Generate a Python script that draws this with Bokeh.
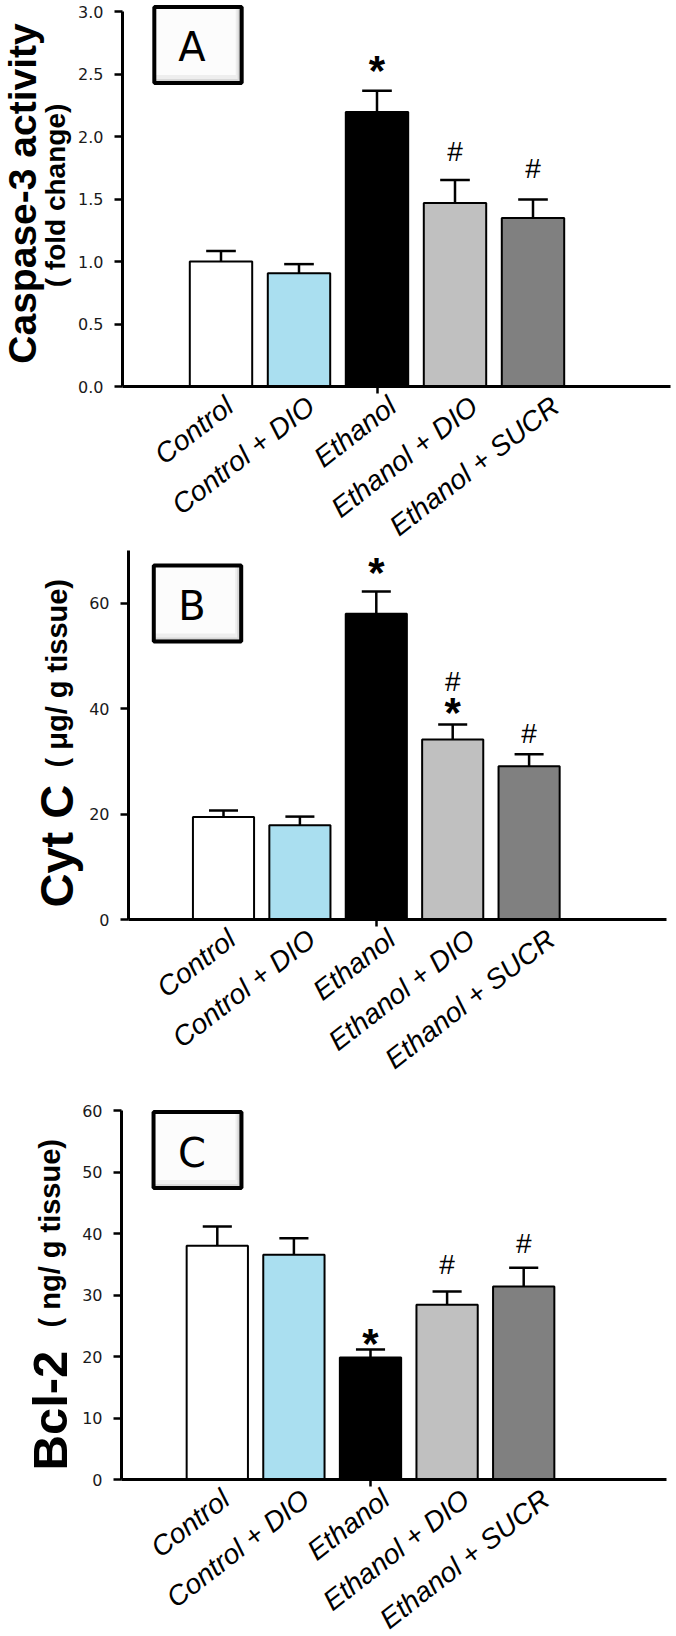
import math
from bokeh.plotting import figure
from bokeh.layouts import column
from bokeh.models import ColumnDataSource, FixedTicker, Label, Range1d, NumeralTickFormatter
from bokeh.embed import file_html
from bokeh.resources import INLINE
from bokeh.core.properties import value

# ---------------- data ----------------
groups = ["Control", "Control + DIO", "Ethanol", "Ethanol + DIO", "Ethanol + SUCR"]
bar_colors = ["#ffffff", "#aadff0", "#000000", "#c0c0c0", "#808080"]

casp_mean = [1.00, 0.907, 2.197, 1.468, 1.348]
casp_err = [0.085, 0.072, 0.170, 0.184, 0.149]
casp_ticks = [0.0, 0.5, 1.0, 1.5, 2.0, 2.5, 3.0]
casp_marks = [("Ethanol", "*", 2.61), ("Ethanol + DIO", "#", 1.89), ("Ethanol + SUCR", "#", 1.75)]

cytc_mean = [19.45, 17.87, 57.98, 34.16, 29.09]
cytc_err = [1.21, 1.65, 4.22, 2.84, 2.28]
cytc_ticks = [0, 20, 40, 60]
cytc_marks = [("Ethanol", "*", 67.7), ("Ethanol + DIO", "#", 45.4),
              ("Ethanol + DIO", "*", 41.1), ("Ethanol + SUCR", "#", 35.4)]

bcl2_mean = [38.0, 36.53, 19.84, 28.4, 31.38]
bcl2_err = [3.14, 2.71, 1.30, 2.17, 3.04]
bcl2_ticks = [0, 10, 20, 30, 40, 50, 60]
bcl2_marks = [("Ethanol", "*", 23.7), ("Ethanol + DIO", "#", 35.1), ("Ethanol + SUCR", "#", 38.6)]

xpos = [1, 2, 3, 4, 5]
LAB_OFF = 0.11      # label anchor offset from bar centre (x units)
LAB_SPREAD = 0.045  # labels sit on a slightly wider pitch than the bars
W = 676
YLAB_SHIFT = -15    # correction for rotated label placement


def make_panel(mean, err, ticks, ymax, marks, letter, ylabels, geo, box_center, letter_pos, fmt=None):
    # geo: pixel layout of this panel in picture coordinates
    fig_top, H, fl, fr, ft, fb, bar1_px, ppu = geo
    xs = 1 - (bar1_px - fl) / ppu

    def X(px):
        return xs + (px - fl) / ppu

    def Y(py):
        return (fb - py) * ymax / (fb - ft)

    p = figure(width=W, height=H,
               x_range=Range1d(X(0), X(W)), y_range=Range1d(Y(fig_top + H), Y(fig_top)),
               output_backend="svg", toolbar_location=None,
               min_border_left=0, min_border_right=0, min_border_top=0, min_border_bottom=0)
    p.grid.visible = False
    p.outline_line_color = None
    p.background_fill_color = "white"
    p.border_fill_color = "white"

    hi = [m + e for m, e in zip(mean, err)]
    src = ColumnDataSource(dict(x=xpos, top=mean, hi=hi, color=bar_colors,
                                cl=[x - 0.19 for x in xpos], cr=[x + 0.19 for x in xpos]))
    p.segment(x0="x", y0="top", x1="x", y1="hi", line_color="black", line_width=2.5, source=src)
    p.segment(x0="cl", y0="hi", x1="cr", y1="hi", line_color="black", line_width=2.5, source=src)
    p.vbar(x="x", top="top", bottom=0, width=0.80, fill_color="color",
           line_color="black", line_width=2, source=src)

    for sym, size, yoff, style in (("*", "42px", 10, "bold"), ("#", "28px", 1, "normal")):
        mx = [xpos[groups.index(g)] for g, s, y in marks if s == sym]
        my = [y for g, s, y in marks if s == sym]
        if mx:
            p.text(x=mx, y=my, text=[sym] * len(mx), text_font=value("Liberation Sans"),
                   text_font_size=size, text_font_style=style, text_align="center",
                   text_baseline="middle", y_offset=yoff, text_color="black")

    lab_x = [x + LAB_OFF + i * LAB_SPREAD for i, x in enumerate(xpos)]
    ax = p.xaxis[0]
    ax.fixed_location = 0
    ax.bounds = (X(fl), X(fr))
    ax.ticker = FixedTicker(ticks=lab_x, minor_ticks=[xpos[groups.index("Ethanol")]])
    ax.major_label_overrides = {t: g for t, g in zip(lab_x, groups)}
    ax.major_label_orientation = math.radians(38)
    ax.major_label_text_font = "Liberation Sans"
    ax.major_label_text_font_style = "italic"
    ax.major_label_text_font_size = "28px"
    ax.major_label_text_color = "black"
    ax.major_label_standoff = 9
    ax.major_tick_line_color = None
    ax.major_tick_out = 0
    ax.major_tick_in = 0
    ax.minor_tick_line_color = "black"
    ax.minor_tick_line_width = 2.5
    ax.minor_tick_out = 7
    ax.minor_tick_in = 0
    ax.axis_line_width = 3
    ax.axis_line_color = "black"

    ay = p.yaxis[0]
    ay.fixed_location = X(fl)
    ay.bounds = (0, ymax)
    ay.ticker = FixedTicker(ticks=ticks)
    if fmt is not None:
        ay.formatter = fmt
    ay.minor_tick_line_color = None
    ay.major_tick_out = 8
    ay.major_tick_in = 0
    ay.major_tick_line_width = 2.5
    ay.axis_line_width = 3
    ay.axis_line_color = "black"
    ay.major_label_text_font = "DejaVu Sans"
    ay.major_label_text_font_size = "16px"
    ay.major_label_text_color = "#1a1a1a"
    ay.major_label_standoff = 11

    for text, fs, bx, by, align in ylabels:
        p.add_layout(Label(x=X(bx + YLAB_SHIFT), y=Y(by), text=text, angle=math.pi / 2,
                           text_align=align, text_baseline="alphabetic",
                           text_font="Liberation Sans", text_font_style="bold",
                           text_font_size=f"{fs}px", text_color="black"))

    # framed panel letter with soft inner shadow
    bx, by = box_center
    layers = [("#b0b0b0", (30, 15), 0, 0), ("#d8d8d8", (29, 14), -1, 1),
              ("#eeeeee", (28, 13), -2, 2), ("#fcfcfc", (27, 11), -3, 4)]
    for col, pad, dx, dy in layers:
        p.add_layout(Label(x=X(bx), y=Y(by), text=letter, text_align="center", text_baseline="middle",
                           text_font="DejaVu Sans", text_font_size="40px", text_color=col,
                           background_fill_color=col, padding=pad, x_offset=dx, y_offset=dy))
    p.add_layout(Label(x=X(bx), y=Y(by), text=letter, text_align="center", text_baseline="middle",
                       text_font="DejaVu Sans", text_font_size="40px", text_color="#fcfcfc",
                       border_line_color="black", border_line_width=4, padding=(30, 15)))
    lx, ly = letter_pos
    p.add_layout(Label(x=X(lx), y=Y(ly), text=letter, text_align="center", text_baseline="middle",
                       text_font="DejaVu Sans", text_font_size="40px", text_color="black"))
    return p


pA = make_panel(casp_mean, casp_err, casp_ticks, 3.0, casp_marks, "A",
                [("Caspase-3 activity", 39, 37, 193, "center"), ("( fold change)", 28, 69.5, 195, "center")],
                (0, 547, 122, 670, 11, 386, 220.5, 78.0), (197.5, 44.5), (191.5, 46.4),
                fmt=NumeralTickFormatter(format="0.0"))
pB = make_panel(cytc_mean, cytc_err, cytc_ticks, 70, cytc_marks, "B",
                [("Cyt C", 47, 71, 907, "left"), ("( \u03bcg/ g tissue)", 29, 71, 767, "left")],
                (547, 550, 128, 666, 550, 919, 223, 76.4), (197, 603), (191.5, 605.5))
pC = make_panel(bcl2_mean, bcl2_err, bcl2_ticks, 60, bcl2_marks, "C",
                [("Bcl-2", 49, 64.7, 1470, "left"), ("( ng/ g  tissue)", 29, 64, 1327, "left")],
                (1097, 539, 121, 666, 1110, 1479, 216.8, 76.6), (197, 1149.5), (191.5, 1152))

layout = column(pA, pB, pC, spacing=0)
open("out.html", "w").write(file_html(layout, INLINE))
